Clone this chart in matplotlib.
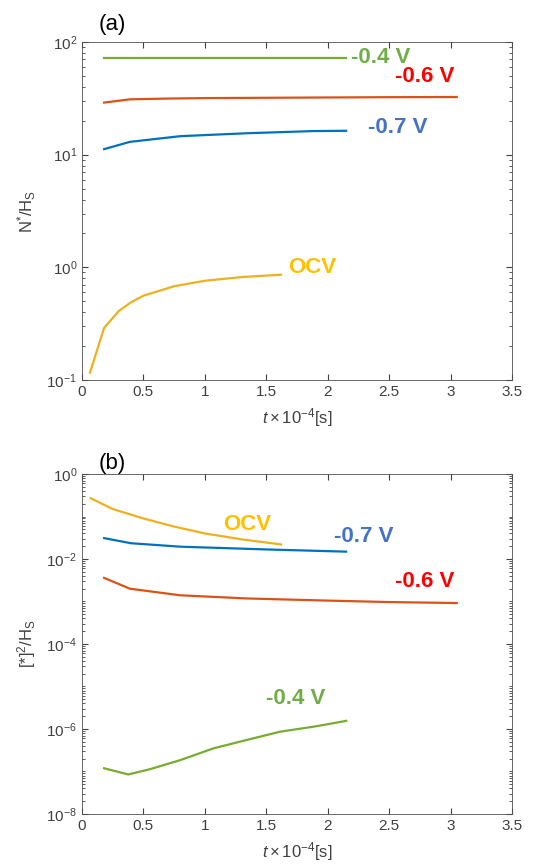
import matplotlib
matplotlib.use('Agg')
import matplotlib.pyplot as plt
import matplotlib.ticker as mticker
import numpy as np

plt.rcParams['font.family'] = ['Liberation Sans', 'DejaVu Sans']
plt.rcParams['mathtext.fontset'] = 'custom'
plt.rcParams['mathtext.rm'] = 'Liberation Sans'
plt.rcParams['mathtext.it'] = 'Liberation Sans:italic'

# (a) N*/H_S
t_ocv_a = [0.065, 0.18, 0.3, 0.4, 0.5, 0.75, 1.0, 1.3, 1.62]
n_ocv = [0.116, 0.29, 0.41, 0.49, 0.56, 0.68, 0.76, 0.82, 0.86]
t_04_a = [0.18, 0.5, 1.0, 1.5, 2.15]
n_04 = [72.6, 72.6, 72.6, 72.6, 72.6]
t_06_a = [0.18, 0.39, 0.7, 1.0, 1.5, 2.0, 2.5, 3.05]
n_06 = [29.0, 31.0, 31.5, 31.8, 32.0, 32.2, 32.4, 32.5]
t_07_a = [0.18, 0.39, 0.8, 1.34, 1.88, 2.15]
n_07 = [11.2, 13.0, 14.6, 15.5, 16.2, 16.3]

# (b) [*]^2/H_S
t_ocv_b = [0.07, 0.25, 0.5, 0.75, 1.0, 1.3, 1.62]
s_ocv = [0.27, 0.15, 0.09, 0.058, 0.040, 0.029, 0.022]
t_04_b = [0.18, 0.377, 0.553, 0.8, 1.07, 1.35, 1.61, 1.9, 2.15]
s_04 = [1.19e-7, 8.5e-8, 1.13e-7, 1.85e-7, 3.5e-7, 5.6e-7, 8.6e-7, 1.15e-6, 1.55e-6]
t_06_b = [0.18, 0.39, 0.8, 1.34, 2.0, 2.5, 3.05]
s_06 = [0.0036, 0.0020, 0.0014, 0.00118, 0.00105, 0.00097, 0.00092]
t_07_b = [0.18, 0.4, 0.8, 1.5, 2.15]
s_07 = [0.031, 0.0235, 0.0195, 0.0168, 0.0149]

line_col = {'ocv': '#EDB120', '04': '#77AC30', '06': '#D95319', '07': '#0072BD'}
text_col = {'ocv': '#FFC000', '04': '#70AD47', '06': '#FF0000', '07': '#4472C4'}

fig = plt.figure(figsize=(5.33, 8.65), dpi=100)
ax1 = fig.add_axes([0.1538, 0.5607, 0.8068, 0.3907])
ax2 = fig.add_axes([0.1538, 0.0590, 0.8068, 0.3930])


def estilo(ax):
    ax.set_yscale('log')
    ax.set_xlim(0, 3.5)
    ax.set_xticks(np.arange(0, 3.6, 0.5))
    ax.xaxis.set_major_formatter(mticker.FuncFormatter(lambda v, p: '%g' % v))
    ax.tick_params(which='both', direction='in', top=True, right=True,
                   colors='#404040', labelsize=11, labelcolor='#404040')
    ax.tick_params(which='major', length=4)
    ax.tick_params(which='minor', length=2)
    for s in ax.spines.values():
        s.set_color('#505050')
        s.set_linewidth(0.6)
    ax.set_xlabel(r'$t\times\mathrm{10^{-4}}$[s]', fontsize=12, color='#404040', labelpad=5)


# Panel (a)
ax1.plot(t_04_a, n_04, color=line_col['04'], lw=1.6)
ax1.plot(t_06_a, n_06, color=line_col['06'], lw=1.6)
ax1.plot(t_07_a, n_07, color=line_col['07'], lw=1.6)
ax1.plot(t_ocv_a, n_ocv, color=line_col['ocv'], lw=1.6)
estilo(ax1)
ax1.set_ylim(0.1, 100)
ax1.set_yticks([0.1, 1, 10, 100])
ax1.set_ylabel(r'N$^{*}$/H$_\mathrm{S}$', fontsize=12, color='#404040', labelpad=6)
ax1.text(2.19, 72.6, '-0.4 V', color=text_col['04'], fontsize=16, fontweight='bold', va='center')
ax1.text(2.55, 49, '-0.6 V', color=text_col['06'], fontsize=16, fontweight='bold', va='center')
ax1.text(2.33, 17.3, '-0.7 V', color=text_col['07'], fontsize=16, fontweight='bold', va='center')
ax1.text(1.68, 1.0, 'OCV', color=text_col['ocv'], fontsize=16, fontweight='bold', va='center')
ax1.text(0.07, 1.02, '(a)', transform=ax1.transAxes, fontsize=16, va='bottom', ha='center')

# Panel (b)
ax2.plot(t_ocv_b, s_ocv, color=line_col['ocv'], lw=1.6)
ax2.plot(t_07_b, s_07, color=line_col['07'], lw=1.6)
ax2.plot(t_06_b, s_06, color=line_col['06'], lw=1.6)
ax2.plot(t_04_b, s_04, color=line_col['04'], lw=1.6)
estilo(ax2)
ax2.set_ylim(1e-8, 1)
ax2.set_yticks([1e-8, 1e-6, 1e-4, 1e-2, 1])
ax2.yaxis.set_minor_locator(mticker.LogLocator(base=10, subs=np.arange(1, 10), numticks=20))
ax2.yaxis.set_minor_formatter(mticker.NullFormatter())
ax2.set_ylabel(r'[*]$^{2}$/H$_\mathrm{S}$', fontsize=12, color='#404040', labelpad=6)
ax2.text(1.15, 0.066, 'OCV', color=text_col['ocv'], fontsize=16, fontweight='bold', va='center')
ax2.text(2.05, 0.033, '-0.7 V', color=text_col['07'], fontsize=16, fontweight='bold', va='center')
ax2.text(2.55, 0.0029, '-0.6 V', color=text_col['06'], fontsize=16, fontweight='bold', va='center')
ax2.text(1.5, 5.3e-6, '-0.4 V', color=text_col['04'], fontsize=16, fontweight='bold', va='center')
ax2.text(0.07, 1.0, '(b)', transform=ax2.transAxes, fontsize=16, va='bottom', ha='center')

fig.savefig('out.png', dpi=100)
